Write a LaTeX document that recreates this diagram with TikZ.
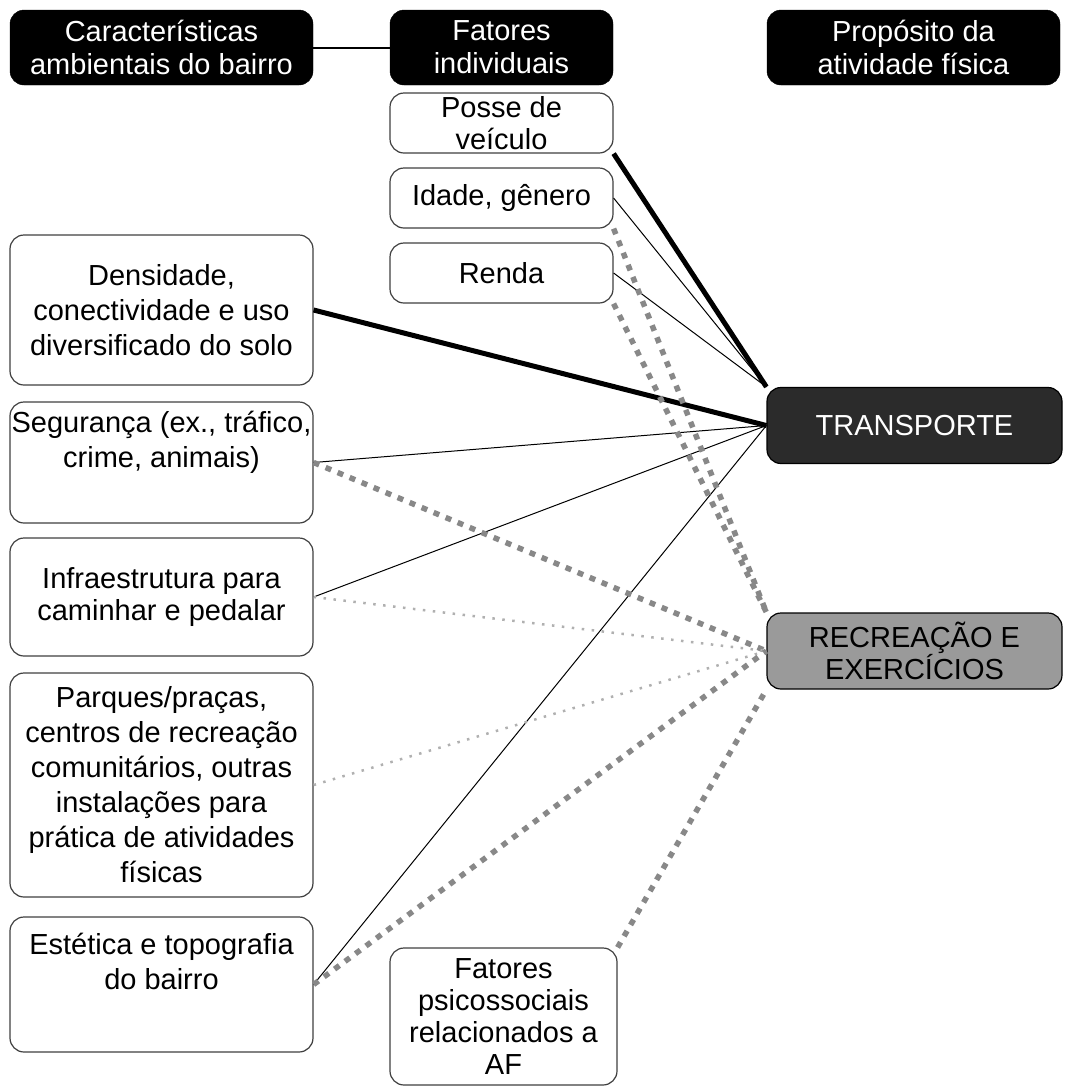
\documentclass[tikz,border=0pt]{standalone}
\usepackage{fontspec}
\setmainfont{Liberation Sans}
\usepackage{xcolor}
\usetikzlibrary{positioning}

\definecolor{cinzaescuro}{HTML}{2B2B2B}
\definecolor{cinzamedio}{HTML}{9A9A9A}
\definecolor{cinzaponto}{HTML}{888888}
\definecolor{cinzaclaro}{HTML}{B0B0B0}

\begin{document}
\begin{tikzpicture}[x=1pt,y=-1pt,
		cabec/.style={draw=black,fill=black,rounded corners=14pt,text=white,align=center,inner xsep=1pt,minimum height=75pt,font=\fontsize{29}{33}\selectfont},
		caixa/.style={draw=black!75,line width=1.2pt,fill=white,rounded corners=14pt,align=center,inner xsep=1pt,font=\fontsize{29}{32}\selectfont},
		caixaalta/.style={caixa,minimum width=303pt,font=\fontsize{29}{35}\selectfont},
		alvo/.style={draw=black,line width=1.2pt,rounded corners=14pt,align=center,inner xsep=1pt,minimum width=295pt,minimum height=76pt,font=\fontsize{29}{32}\selectfont},
		forte/.style={line width=5pt,black},
		fino/.style={line width=1pt,black},
		pontoforte/.style={line width=5.5pt,cinzaponto,dash pattern=on 6pt off 7pt},
		pontofino/.style={line width=2.5pt,cinzaclaro,dash pattern=on 2.5pt off 7.5pt}]
				\useasboundingbox (0,0) rectangle (1065,1088);
				
				% Cabecalhos
				\node[cabec,minimum width=303pt] (amb) at (161.5,47.5) {Características\\ambientais do bairro};
				\node[cabec,minimum width=223pt] (ind) at (501.5,47.5) {Fatores\\individuais};
				\node[cabec,minimum width=293pt] (prop) at (913.5,47.5) {Propósito da\\atividade física};
				\draw[line width=2pt] (amb) -- (ind);
				
				% Fatores individuais
				\node[caixa,minimum width=223pt,minimum height=60pt] (posse) at (501.5,123) {Posse de\\veículo};
				\node[caixa,minimum width=223pt,minimum height=60pt] (idade) at (501.5,198) {Idade, gênero};
				\node[caixa,minimum width=223pt,minimum height=60pt] (renda) at (501.5,273) {Renda};
				
				% Caracteristicas do bairro
				\node[caixaalta,minimum height=150pt] (dens) at (161.5,310) {Densidade,\\conectividade e uso\\diversificado do solo};
				\node[caixaalta,minimum height=121pt] (seg) at (161.5,462.5) {Segurança (ex., tráfico,\\crime, animais)\\[12pt]};
				\node[caixa,minimum width=303pt,minimum height=118pt] (infra) at (161.5,597) {Infraestrutura para\\caminhar e pedalar};
				\node[caixaalta,minimum height=224pt] (parq) at (161.5,785) {Parques/praças,\\centros de recreação\\comunitários, outras\\instalações para\\prática de atividades\\físicas};
				\node[caixaalta,minimum height=135pt] (est) at (161.5,984.5) {Estética e topografia\\do bairro\\[12pt]};
				\node[caixa,minimum width=227pt,minimum height=137pt] (psico) at (503.5,1016.5) {Fatores\\psicossociais\\relacionados a\\AF};
				
				% Proposito
				\node[alvo,fill=cinzaescuro,text=white] (transp) at (914.5,425.5) {TRANSPORTE};
				\node[alvo,fill=cinzamedio,text=black] (recr) at (914.5,651) {RECREAÇÃO E\\EXERCÍCIOS};
				
				% Ligacoes com transporte
				\draw[forte] (posse.south east) -- (transp.north west);
				\draw[fino] (idade.east) -- (transp.north west);
				\draw[fino] (renda.east) -- (transp.north west);
				\draw[forte] (dens.east) -- (transp.west);
				\draw[fino] (seg.east) -- (transp.west);
				\draw[fino] (infra.east) -- (transp.west);
				\draw[fino] (est.east) -- (transp.west);
				
				% Ligacoes com recreacao
				\draw[pontoforte] (idade.south east) -- (recr.north west);
				\draw[pontoforte] (renda.south east) -- (recr.north west);
				\draw[pontoforte] (seg.east) -- (recr.west);
				\draw[pontofino] (infra.east) -- (recr.west);
				\draw[pontofino] (parq.east) -- (recr.west);
				\draw[pontoforte] (est.east) -- (recr.west);
				\draw[pontoforte] (psico.north east) -- (recr.south west);
				
			\end{tikzpicture}
\end{document}
